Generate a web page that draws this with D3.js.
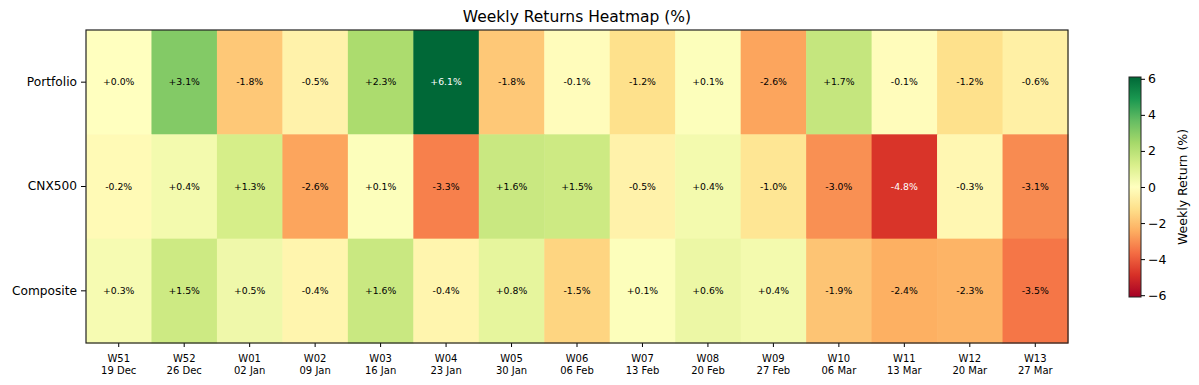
<!DOCTYPE html>
<html>
<head>
<meta charset="utf-8">
<script src="https://cdn.jsdelivr.net/npm/d3@7"></script>
<style>
  body { margin: 0; background: #fff; }
  svg { display: block; }
  svg text { font-family: "DejaVu Sans", sans-serif; }
  .axis path, .axis line { stroke: #000; }
  .axis text { fill: #000; }
</style>
</head>
<body>
<svg width="1199" height="385"></svg>
<script>
// data
var rows = ["Portfolio", "CNX500", "Composite"];
var weeks = ["W51", "W52", "W01", "W02", "W03", "W04", "W05", "W06", "W07", "W08", "W09", "W10", "W11", "W12", "W13"];
var dates = ["19 Dec", "26 Dec", "02 Jan", "09 Jan", "16 Jan", "23 Jan", "30 Jan", "06 Feb", "13 Feb", "20 Feb", "27 Feb", "06 Mar", "13 Mar", "20 Mar", "27 Mar"];
var portfolio = [0.0, 3.1, -1.8, -0.5, 2.3, 6.1, -1.8, -0.1, -1.2, 0.1, -2.6, 1.7, -0.1, -1.2, -0.6];
var cnx500 = [-0.2, 0.4, 1.3, -2.6, 0.1, -3.3, 1.6, 1.5, -0.5, 0.4, -1.0, -3.0, -4.8, -0.3, -3.1];
var composite = [0.3, 1.5, 0.5, -0.4, 1.6, -0.4, 0.8, -1.5, 0.1, 0.6, 0.4, -1.9, -2.4, -2.3, -3.5];
var cbTicks = [-6, -4, -2, 0, 2, 4, 6];

var series = [portfolio, cnx500, composite];
var cells = [];
series.forEach(function(s, r) {
  s.forEach(function(v, c) { cells.push({row: rows[r], week: weeks[c], value: v}); });
});

var svg = d3.select("svg"),
    margin = {top: 30, right: 131, bottom: 42, left: 86},
    width = +svg.attr("width") - margin.left - margin.right,
    height = +svg.attr("height") - margin.top - margin.bottom;

var x = d3.scaleBand().domain(weeks).range([0, width]),
    y = d3.scaleBand().domain(rows).range([0, height]);

// symmetric range from largest absolute value, red (low) to green (high)
var vmax = d3.max(cells, function(d) { return Math.abs(d.value); });
var color = d3.scaleLinear()
    .domain(d3.range(11).map(function(i) { return -vmax + i * 2 * vmax / 10; }))
    .range(d3.schemeRdYlGn[11])
    .interpolate(d3.interpolateRgb);

var g = svg.append("g")
    .attr("transform", "translate(" + margin.left + "," + margin.top + ")");

g.selectAll(".cell")
  .data(cells)
  .enter().append("rect")
    .attr("class", "cell")
    .attr("x", function(d) { return x(d.week); })
    .attr("y", function(d) { return y(d.row); })
    .attr("width", x.bandwidth() + 0.5)
    .attr("height", y.bandwidth() + 0.5)
    .attr("fill", function(d) { return color(d.value); });

g.selectAll(".lbl")
  .data(cells)
  .enter().append("text")
    .attr("class", "lbl")
    .attr("x", function(d) { return x(d.week) + x.bandwidth() / 2; })
    .attr("y", function(d) { return y(d.row) + y.bandwidth() / 2; })
    .attr("dy", "0.35em")
    .attr("text-anchor", "middle")
    .style("font-size", "9.3px")
    .attr("fill", function(d) { return Math.abs(d.value) > 4 ? "#fff" : "#000"; })
    .text(function(d) { return (d.value < 0 ? "-" : "+") + Math.abs(d.value).toFixed(1) + "%"; });

// x axis, two line labels
var xAxis = g.append("g")
    .attr("class", "axis")
    .attr("transform", "translate(0," + height + ")")
    .call(d3.axisBottom(x).tickSize(4).tickSizeOuter(0));
xAxis.select(".domain").remove();
xAxis.selectAll("text").remove();
xAxis.selectAll(".tick").append("text")
    .attr("text-anchor", "middle")
    .style("font-size", "10px")
    .selectAll("tspan")
    .data(function(d) { var i = weeks.indexOf(d); return [weeks[i], dates[i]]; })
    .enter().append("tspan")
      .attr("x", 0)
      .attr("y", function(d, i) { return 18.5 + i * 12; })
      .text(function(d) { return d; });

var yAxis = g.append("g")
    .attr("class", "axis")
    .call(d3.axisLeft(y).tickSize(5).tickPadding(4).tickSizeOuter(0));
yAxis.select(".domain").remove();
yAxis.selectAll("text").style("font-size", "12.2px");

g.append("rect")
    .attr("width", width)
    .attr("height", height)
    .attr("fill", "none")
    .attr("stroke", "#222")
    .attr("stroke-width", 1.2);

svg.append("text")
    .attr("x", margin.left + width / 2)
    .attr("y", 22)
    .attr("text-anchor", "middle")
    .style("font-size", "15.5px")
    .text("Weekly Returns Heatmap (%)");

// colorbar
var cb = {x: 1129, y: 77, w: 12, h: 220};
var cy = d3.scaleLinear().domain([-vmax, vmax]).range([cb.y + cb.h, cb.y]);

var grad = svg.append("defs").append("linearGradient")
    .attr("id", "cbgrad")
    .attr("x1", 0).attr("y1", 1).attr("x2", 0).attr("y2", 0);
grad.selectAll("stop")
  .data(color.domain())
  .enter().append("stop")
    .attr("offset", function(d, i) { return i / 10; })
    .attr("stop-color", function(d) { return color(d); });

svg.append("rect")
    .attr("x", cb.x)
    .attr("y", cb.y)
    .attr("width", cb.w)
    .attr("height", cb.h)
    .attr("fill", "url(#cbgrad)")
    .attr("stroke", "#222")
    .attr("stroke-width", 1);

var cbAxis = svg.append("g")
    .attr("class", "axis")
    .attr("transform", "translate(" + (cb.x + cb.w) + ",0)")
    .call(d3.axisRight(cy).tickValues(cbTicks).tickSize(4).tickPadding(3));
cbAxis.select(".domain").remove();
cbAxis.selectAll("text").style("font-size", "12.5px");

svg.append("text")
    .attr("transform", "translate(1187," + (cb.y + cb.h / 2) + ") rotate(-90)")
    .attr("text-anchor", "middle")
    .style("font-size", "12.5px")
    .text("Weekly Return (%)");
</script>
</body>
</html>
